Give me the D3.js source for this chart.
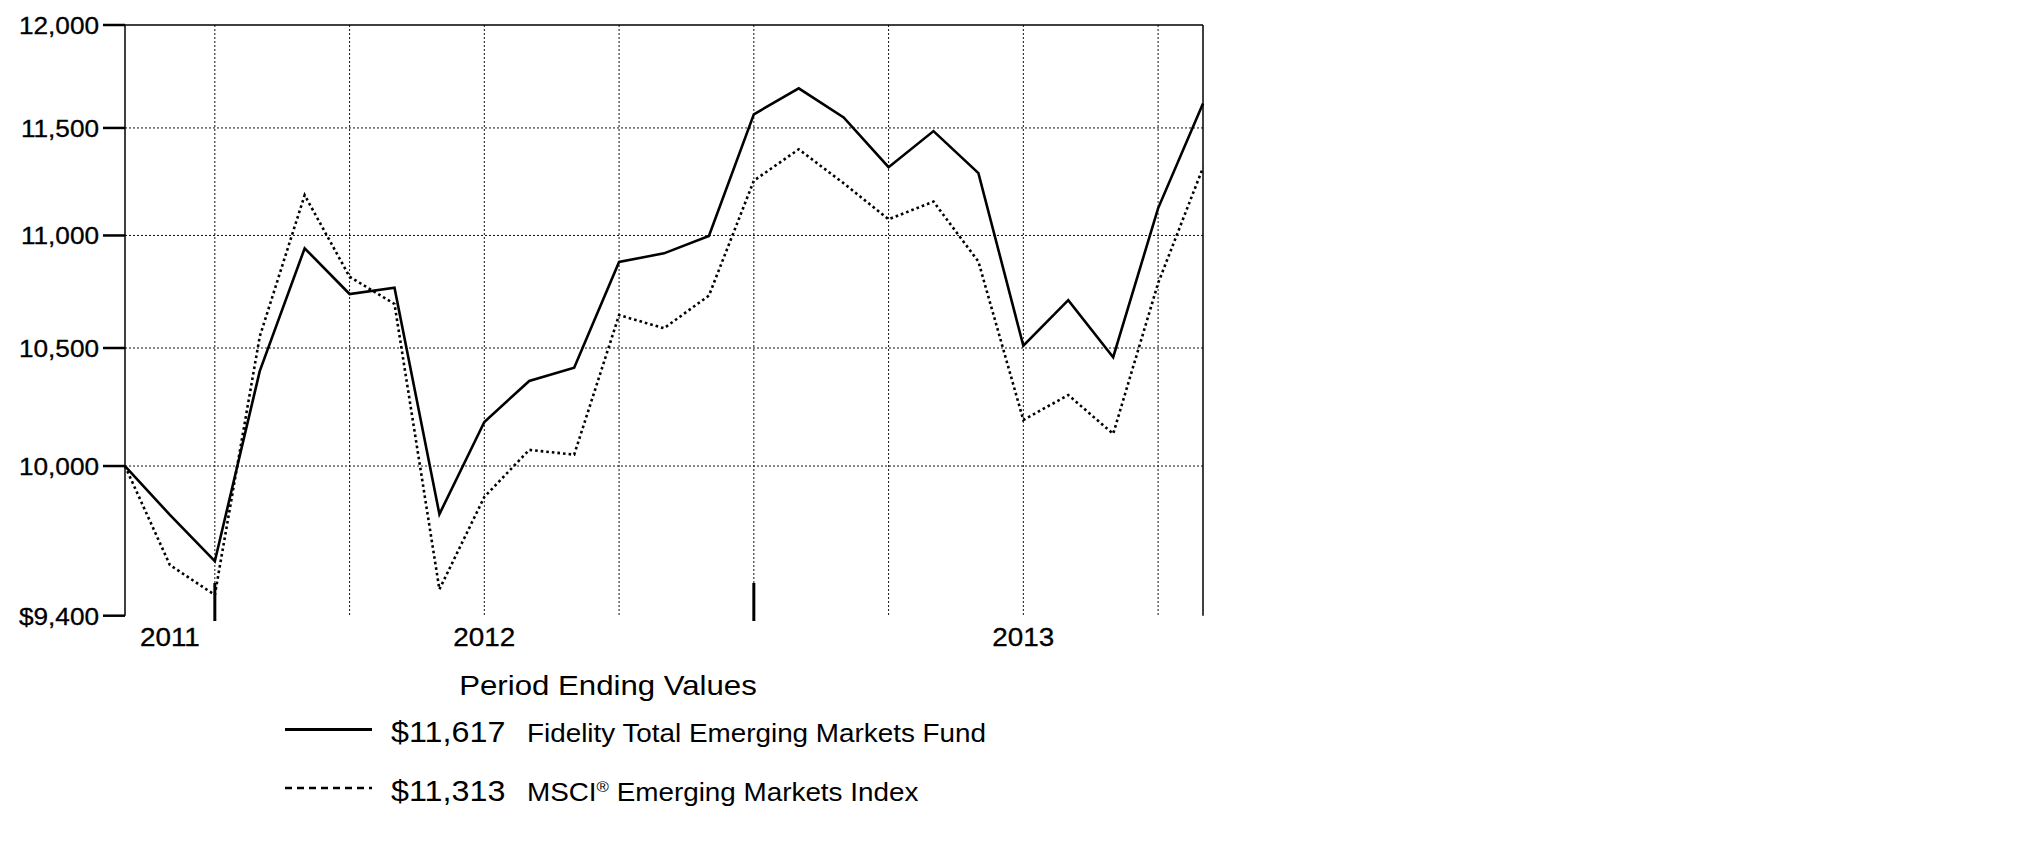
<!DOCTYPE html>
<html>
<head>
<meta charset="utf-8">
<script src="https://cdn.jsdelivr.net/npm/d3@7"></script>
<style>
  html, body { margin: 0; padding: 0; background: #fff; }
  svg { display: block; }
  text { font-family: "Liberation Sans", Arial, sans-serif; fill: #000; }
</style>
</head>
<body>
<svg id="chart" width="2025" height="851"></svg>
<script>
// ---------------- data ----------------
const months = [
  "2011-10","2011-11","2011-12","2012-01","2012-02","2012-03","2012-04","2012-05","2012-06",
  "2012-07","2012-08","2012-09","2012-10","2012-11","2012-12","2013-01","2013-02","2013-03",
  "2013-04","2013-05","2013-06","2013-07","2013-08","2013-09","2013-10"
];
const fundValues = [
  10000, 9800, 9614, 10400, 10942, 10737, 10765, 9803, 10184,
  10358, 10415, 10880, 10919, 10998, 11565, 11690, 11550, 11315,
  11485, 11287, 10510, 10710, 10460, 11124, 11617
];
const indexValues = [
  10000, 9599, 9481, 10550, 11185, 10814, 10693, 9503, 9873,
  10067, 10047, 10644, 10586, 10730, 11252, 11399, 11240, 11074,
  11155, 10882, 10192, 10298, 10134, 10785, 11313
];
const yTicks = [9400, 10000, 10500, 11000, 11500, 12000];
const yTickLabels = ["$9,400", "10,000", "10,500", "11,000", "11,500", "12,000"];
const gridMonths = ["2011-12","2012-03","2012-06","2012-09","2012-12","2013-03","2013-06","2013-09"];
const yearTickMonths = ["2011-12","2012-12"];
const yearLabels = ["2011","2012","2013"];
const yearLabelMonths = ["2011-11","2012-06","2013-06"];
const seriesNames = ["Fidelity Total Emerging Markets Fund", "MSCI", "Emerging Markets Index"];
const endValueLabels = ["$11,617", "$11,313"];
const legendTitle = "Period Ending Values";

// ---------------- layout ----------------
const svg = d3.select("#chart");
const plotL = 125, plotR = 1203, plotT = 25, plotB = 615.7;
const SX = 1.114; // horizontal text stretch of the original typeface

const x = d3.scalePoint().domain(months).range([plotL, plotR]).padding(0);
const y = d3.scaleLog().domain([9400, 12000]).range([plotB, plotT]);

function txt(g, s, px, py, size, anchor) {
  return g.append("text")
    .attr("transform", `translate(${px},${py}) scale(${SX},1)`)
    .attr("text-anchor", anchor || "start")
    .attr("font-size", size)
    .text(s);
}

// horizontal dotted gridlines
svg.append("g").selectAll("line")
  .data(yTicks.filter(d => d > 9400 && d < 12000))
  .join("line")
  .attr("x1", plotL).attr("x2", plotR)
  .attr("y1", d => y(d)).attr("y2", d => y(d))
  .attr("stroke", "#111").attr("stroke-width", 1)
  .attr("stroke-dasharray", "2,2");

// vertical dotted gridlines
svg.append("g").selectAll("line")
  .data(gridMonths)
  .join("line")
  .attr("x1", d => x(d)).attr("x2", d => x(d))
  .attr("y1", plotT).attr("y2", plotB)
  .attr("stroke", "#111").attr("stroke-width", 1)
  .attr("stroke-dasharray", "2,2");

// frame: top, left, right
svg.append("line").attr("x1", plotL).attr("x2", plotR).attr("y1", plotT).attr("y2", plotT)
  .attr("stroke", "#000").attr("stroke-width", 1.5);
svg.append("line").attr("x1", plotL).attr("x2", plotL).attr("y1", plotT).attr("y2", plotB)
  .attr("stroke", "#000").attr("stroke-width", 1.5);
svg.append("line").attr("x1", plotR).attr("x2", plotR).attr("y1", plotT).attr("y2", plotB)
  .attr("stroke", "#000").attr("stroke-width", 1.5);

// y ticks + labels
const yAx = svg.append("g");
yAx.selectAll("line").data(yTicks).join("line")
  .attr("x1", 103).attr("x2", plotL)
  .attr("y1", d => y(d)).attr("y2", d => y(d))
  .attr("stroke", "#000").attr("stroke-width", 2.5);
yTicks.forEach((d, i) => txt(yAx, yTickLabels[i], 99, y(d) + 9, 23.5, "end")
  .attr("stroke", "#000").attr("stroke-width", 0.3));

// year boundary ticks
svg.append("g").selectAll("line").data(yearTickMonths).join("line")
  .attr("x1", d => x(d)).attr("x2", d => x(d))
  .attr("y1", 583).attr("y2", 621)
  .attr("stroke", "#000").attr("stroke-width", 3);

// year labels
const yrG = svg.append("g");
yearLabels.forEach((s, i) => txt(yrG, s, x(yearLabelMonths[i]), 645.5, 25, "middle")
  .attr("stroke", "#000").attr("stroke-width", 0.3));

// series lines
const line = d3.line().x((d, i) => x(months[i])).y(d => y(d));
svg.append("path").datum(indexValues).attr("d", line)
  .attr("fill", "none").attr("stroke", "#000").attr("stroke-width", 2.6)
  .attr("stroke-dasharray", "2.6,3").attr("stroke-linejoin", "miter");
svg.append("path").datum(fundValues).attr("d", line)
  .attr("fill", "none").attr("stroke", "#000").attr("stroke-width", 2.6)
  .attr("stroke-linejoin", "miter");

// legend
const lg = svg.append("g");
txt(lg, legendTitle, 608, 695, 28, "middle");
lg.append("line").attr("x1", 285).attr("x2", 372).attr("y1", 729.5).attr("y2", 729.5)
  .attr("stroke", "#000").attr("stroke-width", 3);
lg.append("line").attr("x1", 285).attr("x2", 372).attr("y1", 788).attr("y2", 788)
  .attr("stroke", "#000").attr("stroke-width", 2.5).attr("stroke-dasharray", "7,5");
txt(lg, endValueLabels[0], 391, 742, 29, "start");
txt(lg, endValueLabels[1], 391, 801, 29, "start");
txt(lg, seriesNames[0], 527, 742, 25, "start");
const t2 = txt(lg, seriesNames[1], 527, 801, 25, "start");
t2.append("tspan").attr("font-size", 15).attr("dy", -9).text("\u00AE");
t2.append("tspan").attr("dy", 9).text(" " + seriesNames[2]);
</script>
</body>
</html>
